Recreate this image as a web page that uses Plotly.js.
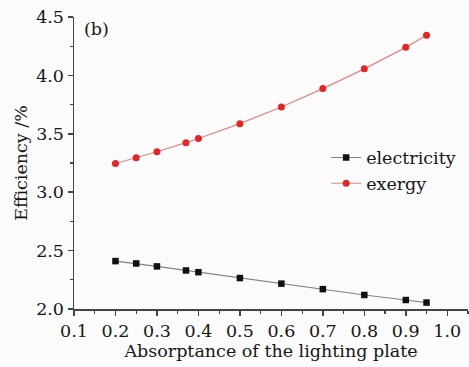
<!DOCTYPE html>
<html><head><meta charset="utf-8">
<script src="https://cdn.plot.ly/plotly-3.0.1.min.js"></script>
<style>html,body{margin:0;padding:0;background:#fbfbfb;}</style>
</head><body>
<div id="chart" style="width:469px;height:367px;"></div>
<script>
const absorptance = [0.2, 0.25, 0.3, 0.37, 0.4, 0.5, 0.6, 0.7, 0.8, 0.9, 0.95];
const electricity = [2.41, 2.39, 2.365, 2.33, 2.315, 2.265, 2.217, 2.17, 2.12, 2.077, 2.055];
const exergy = [3.246, 3.295, 3.346, 3.424, 3.46, 3.587, 3.73, 3.887, 4.056, 4.24, 4.344];
const xTicks = [0.1, 0.2, 0.3, 0.4, 0.5, 0.6, 0.7, 0.8, 0.9, 1.0];
const yTicks = [2.0, 2.5, 3.0, 3.5, 4.0, 4.5];

const font = {family: 'DejaVu Serif, serif', size: 17.5, color: '#161616'};
const traces = [
  {x: absorptance, y: electricity, name: 'electricity', mode: 'lines+markers',
   line: {color: '#8a8080', width: 1.2}, marker: {symbol: 'square', size: 6.5, color: '#111'}},
  {x: absorptance, y: exergy, name: 'exergy', mode: 'lines+markers',
   line: {color: '#e08585', width: 1.2}, marker: {symbol: 'circle', size: 7, color: '#e02828'}}
];
const axisCommon = {showgrid: false, zeroline: false, showline: true, linecolor: '#444', linewidth: 1.5,
  ticks: 'outside', ticklen: 5, tickwidth: 1.5, tickcolor: '#444', tickfont: font};
const layout = {
  width: 469, height: 367,
  margin: {l: 74, r: 1, t: 17, b: 58},
  paper_bgcolor: '#fbfbfb', plot_bgcolor: '#fbfbfb',
  font: font,
  xaxis: Object.assign({}, axisCommon, {range: [0.1, 1.05], tickvals: xTicks, ticktext: xTicks.map(v => v.toFixed(1)),
    minor: {ticks: 'outside', dtick: 0.05, tick0: 0.1, ticklen: 3, tickcolor: '#444', tickwidth: 1.2},
    title: {text: 'Absorptance of the lighting plate', font: font, standoff: 0}}),
  yaxis: Object.assign({}, axisCommon, {range: [2.0, 4.5], tickvals: yTicks, ticktext: yTicks.map(v => v.toFixed(1)),
    minor: {ticks: 'outside', dtick: 0.25, tick0: 2.0, ticklen: 3, tickcolor: '#444', tickwidth: 1.2},
    title: {text: 'Efficiency /%', font: font, standoff: 4}}),
  legend: {x: 0.64, y: 0.58, xanchor: 'left', yanchor: 'top', bgcolor: 'rgba(0,0,0,0)', font: font,
    itemwidth: 30, tracegroupgap: 0},
  showlegend: true,
  annotations: [{text: '(b)', xref: 'paper', yref: 'paper', x: 0.02, y: 1.0, xanchor: 'left', yanchor: 'top',
    showarrow: false, font: font}]
};
Plotly.newPlot('chart', traces, layout, {staticPlot: true, displayModeBar: false});
</script>
</body></html>
